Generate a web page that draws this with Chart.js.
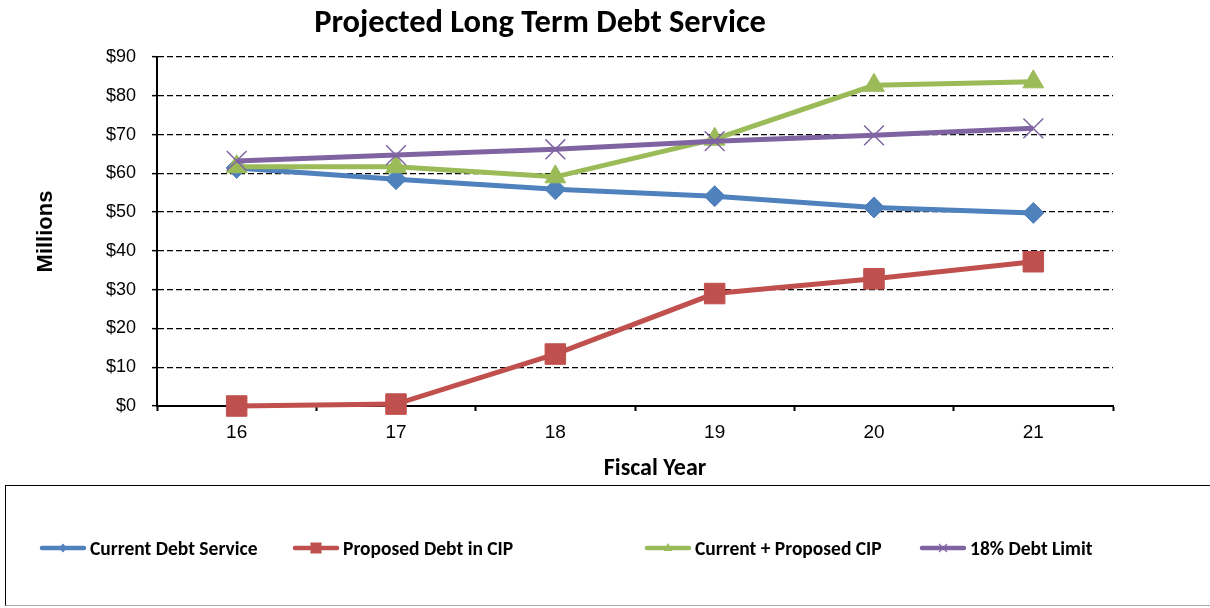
<!DOCTYPE html>
<html><head><meta charset="utf-8">
<script src="https://cdn.jsdelivr.net/npm/chart.js@4"></script>
<style>
html,body{margin:0;padding:0;background:#fff;}
#wrap{position:relative;width:1210px;height:608px;overflow:hidden;}
.lbl{position:absolute;text-align:center;font-weight:bold;font-family:Calibri,Carlito,Lato,sans-serif;color:#000;white-space:nowrap;}
#title{left:240px;width:600px;top:2px;font-size:32.5px;line-height:38px;}
#xtitle{left:555px;width:200px;top:453px;font-size:24px;line-height:28px;}
canvas#c{position:absolute;left:0;top:0;}
#legend{position:absolute;left:5px;top:485px;width:1215px;height:121px;border-top:1.5px solid #000;border-left:1.5px solid #000;border-bottom:1.5px solid #aaa;box-sizing:border-box;}
.item{position:absolute;top:47px;height:30px;display:flex;align-items:center;font-weight:bold;font-family:Calibri,Carlito,Lato,sans-serif;font-size:19.5px;color:#000;white-space:nowrap;}
.item canvas{display:block;margin-right:3px;}
</style></head><body>
<div id="wrap"><canvas id="c" width="1210" height="608"></canvas>
<div id="title" class="lbl">Projected Long Term Debt Service</div>
<div id="xtitle" class="lbl"></div>
<div id="legend"></div></div>
<script>
// ---- data ----
const categories = ['16', '17', '18', '19', '20', '21'];
const currentDebtService = [61.4, 58.5, 55.9, 54.1, 51.2, 49.8];
const proposedDebtCIP = [0, 0.5, 13.4, 29.0, 32.8, 37.2];
const currentPlusProposed = [61.7, 61.7, 59.1, 68.8, 82.7, 83.6];
const debtLimit18 = [63.2, 64.7, 66.2, 68.3, 69.8, 71.6];
const seriesNames = ['Current Debt Service', 'Proposed Debt in CIP', 'Current + Proposed CIP', '18% Debt Limit'];
const yMin = 0, yMax = 90, yStep = 10;
const xTitle = 'Fiscal Year';
const yTitle = 'Millions';

document.getElementById('xtitle').textContent = xTitle;

// ---- styles ----
const colors = ['#4F81BD', '#C0504D', '#9BBB59', '#8064A2'];
const styles = ['rectRot', 'rect', 'triangle', 'crossRot'];
const radii = [10.5, 14.5, 12, 14];
const legendColumnLeft = [33, 286, 638, 913]; // px inside legend box

function legendIcon(color, style) {
  const c = document.createElement('canvas');
  c.width = 48; c.height = 16;
  const g = c.getContext('2d');
  g.strokeStyle = color; g.fillStyle = color;
  g.lineWidth = 4.5; g.lineCap = 'round';
  g.beginPath(); g.moveTo(3, 8); g.lineTo(45, 8); g.stroke();
  g.beginPath();
  const x = 24, y = 8;
  if (style === 'rectRot') { g.moveTo(x - 4, y); g.lineTo(x, y - 4.5); g.lineTo(x + 4, y); g.lineTo(x, y + 4.5); g.closePath(); g.fill(); }
  else if (style === 'rect') { g.fillRect(x - 5.5, y - 5.5, 11, 11); }
  else if (style === 'triangle') { g.moveTo(x, y - 5); g.lineTo(x + 4.5, y + 3); g.lineTo(x - 4.5, y + 3); g.closePath(); g.fill(); }
  else { g.lineWidth = 1.2; g.lineCap = 'butt'; g.moveTo(x - 4, y - 4); g.lineTo(x + 4, y + 4); g.moveTo(x + 4, y - 4); g.lineTo(x - 4, y + 4); g.stroke(); }
  return c;
}

const seriesValues = [currentDebtService, proposedDebtCIP, currentPlusProposed, debtLimit18];
const datasets = seriesValues.map((vals, i) => ({
  label: seriesNames[i],
  data: vals,
  borderColor: colors[i],
  backgroundColor: colors[i],
  borderWidth: 5,
  tension: 0,
  clip: false,
  pointStyle: styles[i],
  pointRadius: radii[i],
  pointHoverRadius: radii[i],
  pointBorderWidth: styles[i] === 'crossRot' ? 1.5 : 1,
  pointBorderColor: colors[i],
  pointBackgroundColor: colors[i],
  order: 4 - i,
  fill: false
}));

const htmlLegend = {
  id: 'htmlLegend',
  afterUpdate(chart) {
    const box = document.getElementById('legend');
    box.innerHTML = '';
    const items = Chart.defaults.plugins.legend.labels.generateLabels(chart)
      .sort((a, b) => a.datasetIndex - b.datasetIndex);
    items.forEach((it, k) => {
      const d = document.createElement('div');
      d.className = 'item';
      d.style.left = legendColumnLeft[k] + 'px';
      d.appendChild(legendIcon(colors[it.datasetIndex], styles[it.datasetIndex]));
      const s = document.createElement('span');
      s.textContent = it.text;
      d.appendChild(s);
      box.appendChild(d);
    });
  }
};

new Chart(document.getElementById('c'), {
  type: 'line',
  data: { labels: categories, datasets },
  plugins: [htmlLegend],
  options: {
    responsive: false,
    animation: false,
    events: [],
    layout: { padding: { left: 4, right: 0, top: 57, bottom: 112.5 } },
    plugins: {
      title: { display: false },
      tooltip: { enabled: false },
      legend: { display: false }
    },
    scales: {
      x: {
        type: 'category',
        offset: true,
        grid: { display: true, offset: true, drawOnChartArea: false, drawTicks: true, tickLength: 5, tickColor: '#000', tickWidth: 2 },
        border: { display: true, color: '#000', width: 2 },
        ticks: { color: '#000', padding: 10, font: { family: 'Liberation Sans, Arial, sans-serif', size: 19 } },
        title: { display: false, text: xTitle },
        afterFit(s) { s.height = 89.5; }
      },
      y: {
        min: yMin, max: yMax,
        position: 'left',
        grid: { display: true, color: '#000', lineWidth: 1.3, drawTicks: true, tickLength: 5, tickColor: '#000', tickWidth: 1.5, tickBorderDash: [] },
        border: { display: true, color: '#000', width: 2, dash: [6, 3] },
        ticks: { stepSize: yStep, color: '#000', padding: 16, font: { family: 'Liberation Sans, Arial, sans-serif', size: 18 }, callback: v => '$' + v },
        title: { display: true, text: yTitle, color: '#000', padding: { top: 29, bottom: 29 }, font: { family: 'Liberation Sans, Arial, sans-serif', size: 22, weight: 'bold' } },
        afterFit(s) { s.width = 153; }
      },
      yRight: {
        position: 'right',
        display: true,
        min: yMin, max: yMax,
        grid: { display: false, drawTicks: false },
        border: { display: false },
        ticks: { display: false },
        afterFit(s) { s.width = 97; }
      }
    }
  }
});
</script>
</body></html>
